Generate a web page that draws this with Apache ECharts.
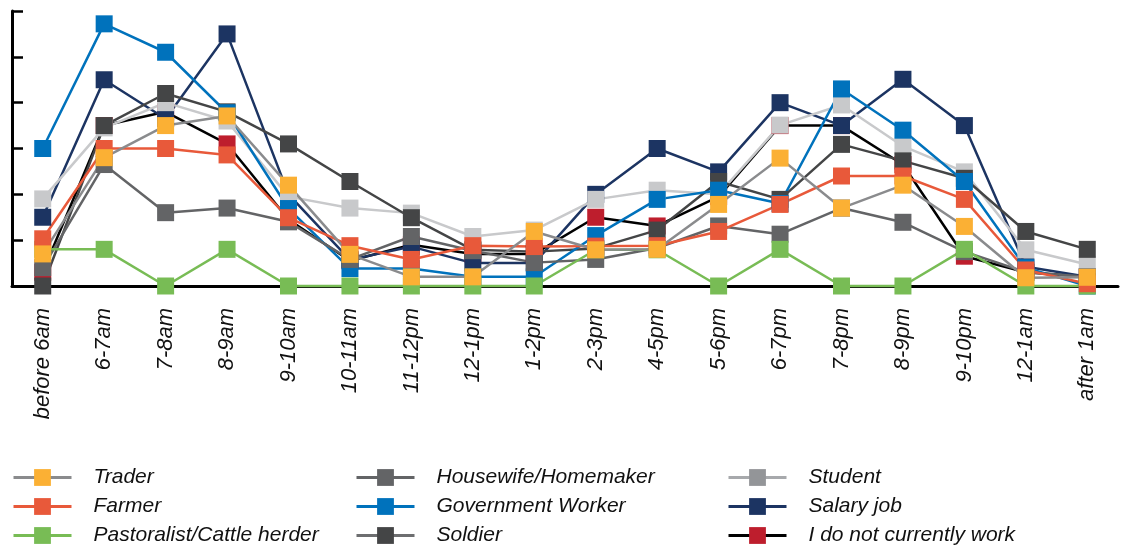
<html>
<head>
    <meta charset="UTF-8">
    <title>Occupation by time of day</title>
    <style type="text/css">
        html, body { margin: 0; padding: 0; background: #fff; }
        #main { width: 1128px; height: 549px; }
    </style>
</head>
<body>
    <div id="main"></div>
    <script src="https://cdn.jsdelivr.net/npm/echarts@6/dist/echarts.min.js"></script>
    <script type="text/javascript">
    var categories = ['before 6am', '6-7am', '7-8am', '8-9am', '9-10am', '10-11am', '11-12pm', '12-1pm',
        '1-2pm', '2-3pm', '4-5pm', '5-6pm', '6-7pm', '7-8pm', '8-9pm', '9-10pm', '12-1am', 'after 1am'];

    var trader      = [0.7, 2.8, 3.5, 3.71, 2.2, 0.69, 0.2, 0.2, 1.19, 0.79, 0.8, 1.78, 2.79, 1.7, 2.2, 1.3, 0.18, 0.19];
    var farmer      = [1.03, 3.0, 3.0, 2.86, 1.49, 0.88, 0.58, 0.88, 0.86, 0.87, 0.88, 1.19, 1.78, 2.4, 2.4, 1.89, 0.35, 0.05];
    var pastoralist = [0.8, 0.8, 0, 0.8, 0, 0, 0, 0, 0, 0.79, 0.79, 0, 0.8, 0, 0, 0.8, 0, 0];
    var housewife   = [0.4, 2.65, 1.6, 1.7, 1.4, 0.58, 1.08, 0.77, 0.51, 0.58, 0.83, 1.31, 1.13, 1.7, 1.39, 0.75, 0.3, 0.2];
    var government  = [3.0, 5.72, 5.1, 3.78, 1.69, 0.38, 0.38, 0.2, 0.2, 1.1, 1.89, 2.09, 1.8, 4.3, 3.4, 2.28, 0.4, 0];
    var soldier     = [0, 3.5, 4.2, 3.8, 3.1, 2.28, 1.49, 0.79, 0.75, 0.82, 1.22, 2.28, 1.89, 3.09, 2.73, 2.35, 1.19, 0.8];
    var student     = [1.9, 3.45, 4.0, 3.6, 1.95, 1.7, 1.59, 1.08, 1.22, 1.89, 2.09, 2.0, 3.51, 3.95, 3.05, 2.49, 0.79, 0.47];
    var salary      = [1.5, 4.5, 3.65, 5.5, 2.0, 0.57, 0.86, 0.5, 0.5, 2.0, 3.0, 2.49, 4.0, 3.5, 4.51, 3.5, 0.42, 0.2];
    var noWork      = [0.3, 3.5, 3.8, 3.1, 1.45, 0.55, 0.9, 0.7, 0.7, 1.5, 1.31, 1.95, 3.5, 3.5, 2.65, 0.65, 0.3, 0.2];

    // name, data, line colour, marker colour
    var seriesDefs = [
        ['Trader', trader, '#8a8b8d', '#fbb034'],
        ['Farmer', farmer, '#e8593a', '#e8593a'],
        ['Pastoralist/Cattle herder', pastoralist, '#78bc55', '#78bc55'],
        ['Housewife/Homemaker', housewife, '#636466', '#636466'],
        ['Government Worker', government, '#0072bc', '#0072bc'],
        ['Soldier', soldier, '#444546', '#444546'],
        ['Student', student, '#c8c9cb', '#c8c9cb'],
        ['Salary job', salary, '#1c3462', '#1c3462'],
        ['I do not currently work', noWork, '#000000', '#be1e2d']
    ];

    var series = [];
    // drawn backwards so Trader ends up on top, like the original
    for (var i = seriesDefs.length - 1; i >= 0; i--) {
        var d = seriesDefs[i];
        series.push({
            name: d[0],
            type: 'line',
            data: d[1],
            symbol: 'rect',
            symbolSize: 17,
            showAllSymbol: true,
            clip: false,
            lineStyle: { color: d[2], width: 2.5 },
            itemStyle: { color: d[3] },
            emphasis: { disabled: true }
        });
    }

    var legendStyle = {
        Student: { itemStyle: { color: '#939598' }, lineStyle: { color: '#a7a9ac', width: 3 } },
        Soldier: { lineStyle: { color: '#6d6e70', width: 3 } }
    };

    function makeLegend(names, left) {
        return {
            orient: 'vertical',
            left: left,
            top: 467,
            padding: 0,
            itemWidth: 58,
            itemHeight: 21,
            itemGap: 8,
            selectedMode: false,
            lineStyle: { width: 3 },
            textStyle: {
                fontFamily: 'Liberation Sans',
                fontStyle: 'italic',
                fontSize: 21,
                color: '#111',
                padding: [0, 0, 0, 17]
            },
            data: names.map(function (n) {
                var o = { name: n };
                if (legendStyle[n]) {
                    if (legendStyle[n].itemStyle) o.itemStyle = legendStyle[n].itemStyle;
                    if (legendStyle[n].lineStyle) o.lineStyle = legendStyle[n].lineStyle;
                }
                return o;
            })
        };
    }

    var option = {
        animation: false,
        backgroundColor: '#fff',
        grid: {
            left: 12,
            right: 10,
            top: 11,
            bottom: 263,
            containLabel: false,
            outerBoundsMode: 'none'
        },
        legend: [
            makeLegend(['Trader', 'Farmer', 'Pastoralist/Cattle herder'], 12),
            makeLegend(['Housewife/Homemaker', 'Government Worker', 'Soldier'], 355),
            makeLegend(['Student', 'Salary job', 'I do not currently work'], 727)
        ],
        xAxis: {
            type: 'category',
            data: categories,
            boundaryGap: true,
            axisLine: { lineStyle: { color: '#000', width: 3 } },
            axisTick: { inside: true, length: 7, lineStyle: { color: '#000', width: 2.5 } },
            axisLabel: {
                rotate: 90,
                margin: 22,
                interval: 0,
                fontFamily: 'Liberation Sans',
                fontStyle: 'italic',
                fontSize: 22,
                color: '#111'
            },
            splitLine: { show: false }
        },
        yAxis: {
            type: 'value',
            min: 0,
            max: 6,
            interval: 1,
            axisLine: { show: true, lineStyle: { color: '#000', width: 3 } },
            axisTick: { show: true, inside: true, length: 11, lineStyle: { color: '#000', width: 2.5 } },
            axisLabel: { show: false },
            splitLine: { show: false }
        },
        series: series
    };

    var myChart = echarts.init(document.getElementById('main'));
    myChart.setOption(option);
    </script>
</body>
</html>
